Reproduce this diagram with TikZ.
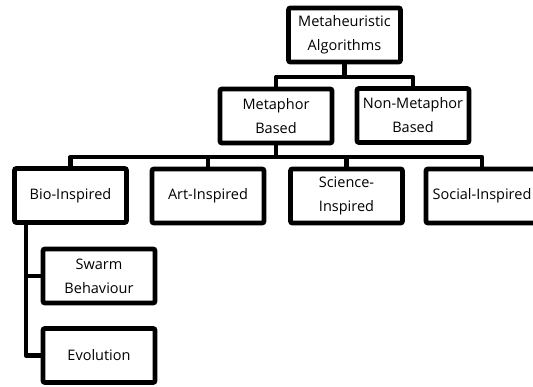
\documentclass[tikz,border=0pt]{standalone}
\usepackage{fontspec}
\setmainfont{Open Sans}
\begin{document}
\begin{tikzpicture}[x=1pt,y=1pt,
  box/.style={draw=black, line width=4.8pt, rounded corners=2pt, fill=white,
    minimum width=112pt, minimum height=54pt, inner sep=1pt, align=center,
    font=\fontsize{14.5}{24}\selectfont},
  conn/.style={draw=black, line width=4.8pt, line join=round}]
\clip (0,0) rectangle (533,387);
\fill[white] (0,0) rectangle (533,387);
\node[box] (top) at (344.5,352) {Metaheuristic\\Algorithms};
\node[box] (meta) at (276,271) {Metaphor\\Based};
\node[box] (nonmeta) at (413,271.5) {Non-Metaphor\\Based};
\node[box] (bio) at (70.5,191.5) {Bio-Inspired};
\node[box] (art) at (208,191) {Art-Inspired};
\node[box] (sci) at (346.5,191) {Science-\\Inspired};
\node[box] (soc) at (482,191) {Social-Inspired};
\node[box] (swarm) at (99,111) {Swarm\\Behaviour};
\node[box] (evo) at (99,31.5) {Evolution};
\coordinate (b1) at (0,310);
\coordinate (b2) at (0,230);
\coordinate (v) at (26,0);
\draw[conn] (top.south) -- (top.south |- b1);
\draw[conn] (meta.north) |- (b1 -| nonmeta.north) -- (nonmeta.north);
\draw[conn] (meta.south) -- (meta.south |- b2);
\draw[conn] (bio.north) |- (b2 -| soc.north) -- (soc.north);
\draw[conn] (art.north) -- (art.north |- b2);
\draw[conn] (sci.north) -- (sci.north |- b2);
\draw[conn] (bio.south -| v) |- (evo.west);
\draw[conn] (v |- swarm.west) -- (swarm.west);
\end{tikzpicture}
\end{document}
